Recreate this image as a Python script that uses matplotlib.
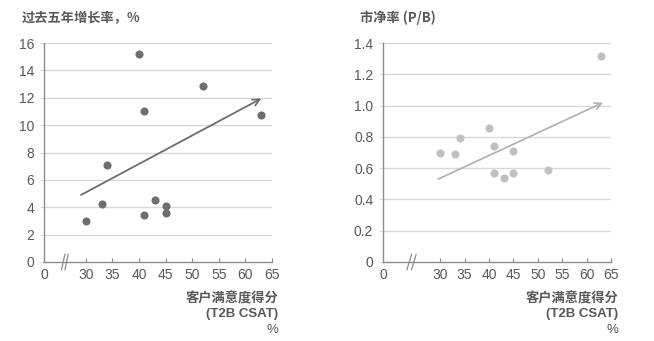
import numpy as np
import matplotlib.pyplot as plt

plt.rcParams['font.family'] = ['Liberation Sans', 'Noto Sans CJK SC', 'DejaVu Sans']

# customer satisfaction (T2B CSAT, %)
csat = [30, 33, 34, 40, 41, 41, 43, 45, 45, 52, 63]
# 5-year growth rate, %
growth = [3.0, 4.25, 7.1, 15.2, 11.0, 3.45, 4.5, 4.1, 3.55, 12.85, 10.75]
# price to book
pb = [0.70, 0.69, 0.79, 0.86, 0.74, 0.57, 0.54, 0.71, 0.57, 0.59, 1.32]

# trend arrows (start x, start y) -> (end x, end y)
growth_trend = [(29.1, 4.9), (63.0, 11.95)]
pb_trend = [(29.6, 0.53), (63.4, 1.02)]

xticks = [30, 35, 40, 45, 50, 55, 60, 65]

grey_txt = '#595959'
grey_axis = '#8c8c8c'

fig = plt.figure(figsize=(6.54, 3.41), dpi=100)
ax1 = fig.add_axes([0.0673, 0.2317, 0.3486, 0.642])
ax2 = fig.add_axes([0.5856, 0.2317, 0.3486, 0.642])


def style(ax, x0, yticks, ylabels, ymax):
    # x0 = where "0" sits on the broken axis
    ax.set_xlim(x0, 65)
    ax.set_ylim(0, ymax)
    ax.set_xticks([x0] + xticks)
    ax.set_xticklabels(['0'] + [str(t) for t in xticks])
    ax.set_yticks(yticks)
    ax.set_yticklabels(ylabels)
    ax.tick_params(axis='x', direction='in', length=3, color=grey_axis,
                   labelsize=10, labelcolor=grey_txt, pad=4)
    ax.tick_params(axis='y', direction='out', length=3, color='#d9d9d9',
                   labelsize=10, labelcolor=grey_txt, pad=4)
    ax.xaxis.get_major_ticks()[0].tick1line.set_visible(False)
    for s in ['top', 'right']:
        ax.spines[s].set_visible(False)
    for s in ['left', 'bottom']:
        ax.spines[s].set_color(grey_axis)
        ax.spines[s].set_linewidth(1.0)
    for t in yticks[1:]:
        ax.axhline(t, color='#d9d9d9', lw=1.0, zorder=0)
    # axis break
    xm = (x0 + 30) / 2
    w = (30 - x0) * 0.04
    for dx in (-w, w):
        ax.plot([xm + dx - w, xm + dx + w], [-0.035, 0.035], color=grey_axis,
                lw=0.9, transform=ax.get_xaxis_transform(), clip_on=False)


style(ax1, 22.15, [0, 2, 4, 6, 8, 10, 12, 14, 16],
      ['0', '2', '4', '6', '8', '10', '12', '14', '16'], 16)
style(ax2, 18.3, [0, 0.2, 0.4, 0.6, 0.8, 1.0, 1.2, 1.4],
      ['0', '0.2', '0.4', '0.6', '0.8', '1.0', '1.2', '1.4'], 1.4)

ax1.scatter(csat, growth, s=34, color='#6e6e6e', zorder=3, linewidths=0)
ax2.scatter(csat, pb, s=34, color='#c0c0c0', zorder=3, linewidths=0)

ax1.annotate('', xy=growth_trend[1], xytext=growth_trend[0],
             arrowprops=dict(arrowstyle='->', color='#6e6e6e', lw=1.3,
                             mutation_scale=12, shrinkA=0, shrinkB=0))
ax2.annotate('', xy=pb_trend[1], xytext=pb_trend[0],
             arrowprops=dict(arrowstyle='->', color='#b4b4b4', lw=1.3,
                             mutation_scale=12, shrinkA=0, shrinkB=0))

# titles
fig.text(22 / 654, 1 - 18 / 341, '过去五年增长率，%', fontsize=9.5,
         fontweight='bold', color=grey_txt, va='center',
         family=['Noto Sans CJK SC', 'DejaVu Sans'])
fig.text(360 / 654, 1 - 18 / 341, '市净率 (P/B)', fontsize=9.5,
         fontweight='bold', color=grey_txt, va='center',
         family=['Noto Sans CJK SC', 'DejaVu Sans'])

# x labels
for xr in (278, 618):
    fig.text(xr / 654, 1 - 298 / 341, '客户满意度得分', fontsize=9.5,
             fontweight='bold', color=grey_txt, ha='right', va='center',
             family=['Noto Sans CJK SC', 'DejaVu Sans'])
    fig.text(xr / 654, 1 - 314 / 341, '(T2B CSAT)', fontsize=9.5,
             fontweight='bold', color=grey_txt, ha='right', va='center')
    fig.text(xr / 654, 1 - 330 / 341, '%', fontsize=9.5,
             color=grey_txt, ha='right', va='center')

plt.savefig('out.png', dpi=100)
